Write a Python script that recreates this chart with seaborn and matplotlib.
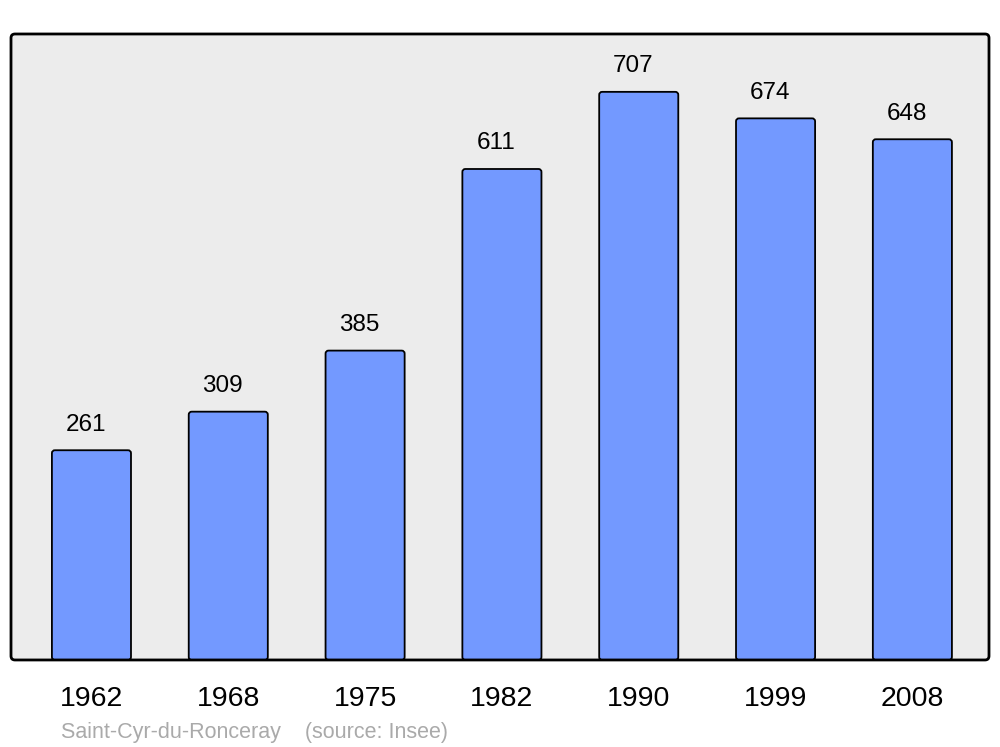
import matplotlib
matplotlib.use('Agg')
import matplotlib.pyplot as plt
from matplotlib.patches import FancyBboxPatch
import seaborn as sns
import pandas as pd

years = ['1962', '1968', '1975', '1982', '1990', '1999', '2008']
population = [261, 309, 385, 611, 707, 674, 648]

df = pd.DataFrame({'year': years, 'pop': population})

sns.set_style('white')
plt.rcParams['font.family'] = ['Liberation Sans', 'DejaVu Sans']
plt.rcParams['text.color'] = 'black'
plt.rcParams['xtick.color'] = 'black'

fig = plt.figure(figsize=(10, 7.47), dpi=100)
ax = fig.add_axes([0.011, 0.1165, 0.978, 0.838])
ax.set_facecolor('#ececec')

sns.barplot(data=df, x='year', y='pop', ax=ax, color='#7399ff', saturation=1,
            width=0.578, edgecolor='black', linewidth=1.3)

ax.set_xlim(-0.588, 6.56)
ax.set_ylim(0, 779)

# rounded bar tops
for p in list(ax.patches):
    x, y = p.get_x(), p.get_y()
    w, h = p.get_width(), p.get_height()
    fb = FancyBboxPatch((x, y), w, h, boxstyle='round,pad=0,rounding_size=0.022',
                        mutation_aspect=168, facecolor=p.get_facecolor(),
                        edgecolor='black', linewidth=1.3, zorder=p.get_zorder())
    p.remove()
    ax.add_patch(fb)

for i, v in enumerate(population):
    ax.text(i - 0.04, v + 32, str(v), ha='center', va='center', fontsize=17.5)

ax.set_yticks([])
ax.set_xlabel('')
ax.set_ylabel('')
ax.tick_params(axis='x', length=0, pad=18.5, labelsize=20.5)
for s in ax.spines.values():
    s.set_visible(False)

frame = FancyBboxPatch((0.011, 0.1165), 0.978, 0.838, boxstyle='round,pad=0,rounding_size=0.004',
                       mutation_aspect=1.34, transform=fig.transFigure, facecolor='none',
                       edgecolor='black', linewidth=2, zorder=10)
fig.patches.append(frame)

fig.text(0.061, 0.019, 'Saint-Cyr-du-Ronceray    (source: Insee)', color='#aaaaaa',
         fontsize=15.5, ha='left', va='center')

fig.savefig('out.png', dpi=100)
